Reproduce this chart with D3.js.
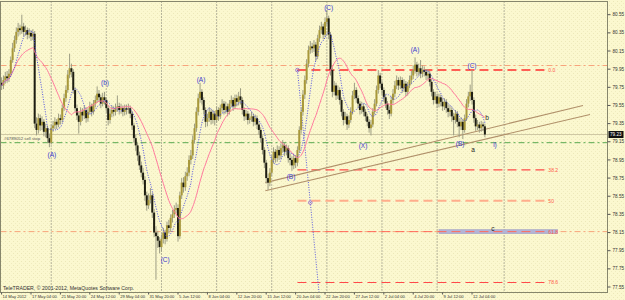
<!DOCTYPE html>
<html>
<head>
<meta charset="utf-8">
<script src="https://cdn.jsdelivr.net/npm/d3@7"></script>
<style>
  body { margin: 0; background: #fbf8cf; }
  text { font-family: "Liberation Sans", Arial, sans-serif; }
</style>
</head>
<body>
<div id="chart"></div>
<script>
// 4h bars, 14 May 12:00 -> 13 Jul 08:00
const opens = [79.80,79.77,79.83,79.87,79.85,79.90,80.05,80.18,80.27,80.36,
80.40,80.38,80.42,80.36,80.38,80.33,80.35,80.31,80.34,79.35,
79.28,79.41,79.33,79.37,79.26,79.30,79.19,79.14,79.30,79.33,
79.37,79.34,79.41,79.39,79.52,79.63,79.72,79.89,79.96,79.92,
79.72,79.52,79.44,79.37,79.48,79.44,79.50,79.41,79.48,79.54,
79.48,79.57,79.61,79.68,79.64,79.57,79.64,79.61,79.52,79.39,
79.46,79.50,79.48,79.52,79.54,79.50,79.52,79.48,79.52,79.50,
79.52,79.46,79.33,79.19,79.11,79.00,78.89,78.81,78.73,78.56,
78.45,78.51,78.56,78.37,78.15,78.11,78.06,77.99,78.08,78.15,
78.08,78.23,78.20,78.31,78.35,78.40,78.42,78.11,78.56,78.70,
78.65,78.77,78.81,78.95,79.00,79.17,79.30,79.48,79.63,79.70,
79.61,79.50,79.37,79.41,79.48,79.39,79.46,79.39,79.50,79.43,
79.52,79.57,79.50,79.54,79.48,79.57,79.61,79.54,79.63,79.59,
79.65,79.61,79.50,79.43,79.46,79.39,79.41,79.43,79.37,79.41,
79.34,79.28,79.19,79.06,78.92,78.75,78.70,78.81,78.95,79.04,
78.97,79.06,79.00,79.08,79.11,79.04,79.08,78.97,78.95,78.89,
78.97,78.92,79.06,79.28,79.48,79.67,79.83,80.01,80.16,80.20,
80.18,80.22,80.09,80.29,80.38,80.42,80.33,80.47,80.51,80.33,
79.94,79.70,79.77,79.66,79.72,79.61,79.48,79.39,79.43,79.34,
79.39,79.48,79.66,79.72,79.63,79.57,79.50,79.54,79.48,79.43,
79.37,79.30,79.34,79.48,79.57,79.72,79.88,79.79,79.72,79.64,
79.57,79.50,79.46,79.61,79.68,79.77,79.83,79.77,79.83,79.74,
79.79,79.70,79.77,79.83,79.88,79.94,80.00,79.92,79.96,79.90,
79.94,79.92,79.88,79.90,79.81,79.70,79.61,79.65,79.57,79.64,
79.59,79.54,79.59,79.52,79.48,79.50,79.43,79.39,79.46,79.37,
79.32,79.37,79.28,79.41,79.57,79.65,79.70,79.61,79.41,79.32,
79.34,79.30,79.34,79.32];

const highs = [79.86,79.88,79.92,79.93,79.95,80.09,80.24,80.32,80.41,80.46,
80.44,80.55,80.46,80.43,80.41,80.40,80.38,80.39,80.37,79.42,
79.46,79.45,79.43,79.40,79.35,79.33,79.24,79.34,79.38,79.42,
79.40,79.46,79.45,79.56,79.68,79.77,79.94,80.12,80.01,79.95,
79.75,79.56,79.48,79.53,79.52,79.55,79.53,79.52,79.59,79.57,
79.61,79.66,79.76,79.72,79.67,79.69,79.70,79.64,79.55,79.51,
79.55,79.54,79.57,79.66,79.58,79.57,79.55,79.56,79.56,79.57,
79.55,79.49,79.36,79.23,79.14,79.04,78.93,78.86,78.77,78.60,
78.58,78.64,78.59,78.41,78.22,78.17,78.10,78.13,78.20,78.18,
78.27,78.29,78.35,78.40,78.45,78.48,78.46,78.60,78.75,78.76,
78.82,78.87,79.00,79.06,79.22,79.35,79.53,79.68,79.80,79.73,
79.64,79.53,79.46,79.53,79.51,79.50,79.49,79.54,79.53,79.56,
79.62,79.60,79.59,79.57,79.61,79.66,79.64,79.67,79.67,79.70,
79.74,79.64,79.53,79.50,79.49,79.46,79.48,79.46,79.45,79.44,
79.38,79.31,79.22,79.09,78.95,78.80,78.86,79.00,79.09,79.07,
79.11,79.10,79.13,79.17,79.14,79.12,79.11,79.02,78.99,79.01,
79.00,79.10,79.32,79.53,79.72,79.88,80.06,80.21,80.26,80.24,
80.27,80.25,80.33,80.43,80.47,80.45,80.52,80.60,80.54,80.36,
79.97,79.82,79.80,79.77,79.75,79.64,79.51,79.48,79.46,79.44,
79.53,79.71,79.80,79.75,79.66,79.60,79.59,79.57,79.51,79.46,
79.40,79.39,79.52,79.62,79.77,79.94,79.91,79.82,79.75,79.67,
79.60,79.54,79.65,79.73,79.82,79.88,79.86,79.87,79.86,79.84,
79.82,79.81,79.88,79.93,79.99,80.08,80.03,80.01,80.05,79.99,
79.98,79.95,79.95,79.93,79.84,79.73,79.70,79.68,79.68,79.67,
79.63,79.63,79.62,79.56,79.55,79.53,79.47,79.50,79.49,79.41,
79.42,79.40,79.45,79.62,79.70,79.78,79.94,79.64,79.45,79.39,
79.37,79.38,79.37,79.35];

const lows = [79.72,79.73,79.79,79.80,79.81,79.87,80.02,80.14,80.23,80.31,
80.33,80.34,80.31,80.32,80.28,80.29,80.26,80.27,79.30,79.22,
79.24,79.27,79.28,79.21,79.20,79.14,79.09,79.12,79.26,79.29,
79.29,79.31,79.34,79.36,79.49,79.59,79.69,79.85,79.86,79.68,
79.48,79.39,79.24,79.33,79.38,79.40,79.36,79.37,79.45,79.43,
79.45,79.53,79.58,79.59,79.52,79.54,79.56,79.47,79.33,79.35,
79.42,79.43,79.44,79.48,79.45,79.46,79.43,79.44,79.45,79.46,
79.41,79.28,79.14,79.05,78.94,78.84,78.76,78.68,78.50,78.39,
78.41,78.47,78.31,78.10,77.63,77.98,77.92,77.94,78.03,78.02,
78.05,78.14,78.16,78.26,78.31,78.36,78.05,78.08,78.52,78.59,
78.61,78.72,78.77,78.90,78.96,79.13,79.26,79.44,79.58,79.56,
79.45,79.31,79.32,79.37,79.34,79.35,79.33,79.36,79.38,79.40,
79.48,79.45,79.46,79.43,79.45,79.53,79.49,79.51,79.54,79.55,
79.56,79.45,79.38,79.39,79.34,79.35,79.37,79.32,79.33,79.29,
79.23,79.14,79.01,78.86,78.69,78.62,78.66,78.77,78.91,78.92,
78.93,78.95,78.96,79.03,78.99,79.00,78.92,78.89,78.83,78.85,
78.86,78.88,79.03,79.24,79.44,79.62,79.79,79.97,80.12,80.13,
80.14,80.04,80.06,80.25,80.34,80.28,80.30,80.43,80.28,79.88,
79.64,79.66,79.61,79.62,79.56,79.43,79.33,79.35,79.28,79.30,
79.36,79.45,79.62,79.58,79.52,79.45,79.46,79.43,79.38,79.32,
79.25,79.22,79.31,79.45,79.54,79.68,79.74,79.67,79.59,79.52,
79.45,79.40,79.43,79.57,79.64,79.73,79.72,79.73,79.69,79.70,
79.65,79.66,79.74,79.79,79.84,79.90,79.87,79.88,79.85,79.86,
79.87,79.83,79.84,79.76,79.65,79.56,79.57,79.52,79.53,79.54,
79.49,79.50,79.47,79.42,79.43,79.37,79.22,79.35,79.31,79.20,
79.28,79.18,79.25,79.38,79.53,79.60,79.56,79.36,79.27,79.28,
79.25,79.26,79.27,79.20];

const closes = [79.77,79.83,79.87,79.85,79.90,80.05,80.18,80.27,80.36,80.40,
80.38,80.42,80.36,80.38,80.33,80.35,80.31,80.34,79.35,79.28,
79.41,79.33,79.37,79.26,79.30,79.19,79.14,79.30,79.33,79.37,
79.34,79.41,79.39,79.52,79.63,79.72,79.89,79.96,79.92,79.72,
79.52,79.44,79.37,79.48,79.44,79.50,79.41,79.48,79.54,79.48,
79.57,79.61,79.68,79.64,79.57,79.64,79.61,79.52,79.39,79.46,
79.50,79.48,79.52,79.54,79.50,79.52,79.48,79.52,79.50,79.52,
79.46,79.33,79.19,79.11,79.00,78.89,78.81,78.73,78.56,78.45,
78.51,78.56,78.37,78.15,78.11,78.06,77.99,78.08,78.15,78.08,
78.23,78.20,78.31,78.35,78.40,78.42,78.11,78.56,78.70,78.65,
78.77,78.81,78.95,79.00,79.17,79.30,79.48,79.63,79.70,79.61,
79.50,79.37,79.41,79.48,79.39,79.46,79.39,79.50,79.43,79.52,
79.57,79.50,79.54,79.48,79.57,79.61,79.54,79.63,79.59,79.65,
79.61,79.50,79.43,79.46,79.39,79.41,79.43,79.37,79.41,79.34,
79.28,79.19,79.06,78.92,78.75,78.70,78.81,78.95,79.04,78.97,
79.06,79.00,79.08,79.11,79.04,79.08,78.97,78.95,78.89,78.97,
78.92,79.06,79.28,79.48,79.67,79.83,80.01,80.16,80.20,80.18,
80.22,80.09,80.29,80.38,80.42,80.33,80.47,80.51,80.33,79.94,
79.70,79.77,79.66,79.72,79.61,79.48,79.39,79.43,79.34,79.39,
79.48,79.66,79.72,79.63,79.57,79.50,79.54,79.48,79.43,79.37,
79.30,79.34,79.48,79.57,79.72,79.88,79.79,79.72,79.64,79.57,
79.50,79.46,79.61,79.68,79.77,79.83,79.77,79.83,79.74,79.79,
79.70,79.77,79.83,79.88,79.94,80.00,79.92,79.96,79.90,79.94,
79.92,79.88,79.90,79.81,79.70,79.61,79.65,79.57,79.64,79.59,
79.54,79.59,79.52,79.48,79.50,79.43,79.39,79.46,79.37,79.32,
79.37,79.28,79.41,79.57,79.65,79.70,79.61,79.41,79.32,79.34,
79.30,79.34,79.32,79.23];

// axis
const priceTicks = [80.55,80.35,80.15,79.95,79.75,79.55,79.35,79.15,78.95,78.75,78.55,78.35,78.15,77.95,77.75,77.55];
const dateTicks = [0,16,32,48,64,80,96,112,128,144,160,176,192,208,224,240,256];
const dateLabels = ["14 May 2012","17 May 04:00","21 May 20:00","24 May 12:00","29 May 04:00","31 May 20:00",
  "5 Jun 12:00","8 Jun 04:00","12 Jun 20:00","15 Jun 12:00","20 Jun 04:00","22 Jun 20:00",
  "27 Jun 12:00","2 Jul 04:00","4 Jul 20:00","9 Jul 12:00","12 Jul 04:00"];
const weekLines = [27,57,87,117,147,177,207,237,273.5];

// drawn objects
const fibStart = 161, fibEnd = 297;
const fibNames = ["0.0","38.2","50","61.8","78.6"];
const fibPrices = [79.94,78.84,78.50,78.16,77.60];
const fibAnchors = [{i:161, p:79.94}, {i:168, p:78.48}];
const channelUpper = [{i:143.5, p:78.70}, {i:316.4, p:79.55}];
const channelLower = [{i:143.5, p:78.61}, {i:320.2, p:79.45}];
const orangeLevels = [79.99, 78.16];
const sellStop = 79.14;
const bid = 79.23;
const targetBox = {i0: 238, i1: 302.5, p: 78.16};

const waveText = ["(A)","(b)","(C)","(A)","(B)","(C)","(X)","(A)","(B)","(C)","i)"];
const waveBar  = [27.4,56.3,89,108.5,157.5,178,196.7,225,249.5,256,268.5];
const wavePrice= [79.01,79.80,77.85,79.83,78.76,80.63,79.11,80.16,79.13,79.99,79.12];
const subText  = ["a","b","c"];
const subBar   = [256.5,264.2,267.4];
const subPrice = [79.06,79.42,78.19];

var W = 625, H = 300;
var P = {left: 0.5, top: 1.5, right: 607.5, bottom: 292.5};

var x = d3.scaleLinear().domain([0, 330]).range([1.6, 608]);
var y = d3.scaleLinear().domain([77.55, 80.55]).range([287, 14.7]);

var svg = d3.select("#chart").append("svg")
  .attr("width", W).attr("height", H);

var defs = svg.append("defs");
var pat = defs.append("pattern").attr("id", "dots")
  .attr("width", 4).attr("height", 4).attr("patternUnits", "userSpaceOnUse");
pat.append("rect").attr("width", 4).attr("height", 4).attr("fill", "#fbf8cf");
pat.append("rect").attr("x", 1).attr("y", 1).attr("width", 1).attr("height", 1).attr("fill", "#ece8b8");
pat.append("rect").attr("x", 3).attr("y", 3).attr("width", 1).attr("height", 1).attr("fill", "#efebbf");
defs.append("clipPath").attr("id", "clip").append("rect")
  .attr("x", P.left).attr("y", P.top).attr("width", P.right - P.left).attr("height", P.bottom - P.top);

svg.append("rect").attr("width", W).attr("height", H).attr("fill", "url(#dots)");

var plot = svg.append("g").attr("clip-path", "url(#clip)");

// weekly grid
plot.selectAll("line.grid").data(weekLines).enter().append("line")
  .attr("x1", d => x(d)).attr("x2", d => x(d))
  .attr("y1", P.top).attr("y2", P.bottom)
  .attr("stroke", "#555").attr("stroke-width", 0.8).attr("stroke-dasharray", "1,2");

// full width levels
plot.selectAll("line.orange").data(orangeLevels).enter().append("line")
  .attr("x1", P.left).attr("x2", P.right)
  .attr("y1", d => y(d)).attr("y2", d => y(d))
  .attr("stroke", "#f7a37a").attr("stroke-dasharray", "6,3,2,3");

plot.append("line")
  .attr("x1", P.left).attr("x2", P.right).attr("y1", y(bid)).attr("y2", y(bid))
  .attr("stroke", "#cfc8a4");

plot.append("line")
  .attr("x1", P.left).attr("x2", P.right).attr("y1", y(sellStop)).attr("y2", y(sellStop))
  .attr("stroke", "#5aaa50").attr("stroke-dasharray", "6,3,2,3");
plot.append("text").attr("x", 4).attr("y", y(sellStop) - 3)
  .attr("font-size", 4.3).attr("fill", "#555").text("#6789052 sell stop");

// target box for c
plot.append("rect")
  .attr("x", x(targetBox.i0)).attr("width", x(targetBox.i1) - x(targetBox.i0))
  .attr("y", y(targetBox.p) - 2).attr("height", 4)
  .attr("fill", "#b4b4d6").attr("stroke", "#9a9ac4").attr("stroke-width", 0.5);

// fibo levels
var fibColors = ["#ff2e2e","#ff4a4a","#ffad8c","#ff6a5a","#ff4a4a"];
var fibWidths = [1.6,1.1,2,1,1.1];
plot.selectAll("line.fib").data(fibPrices).enter().append("line")
  .attr("x1", x(fibStart)).attr("x2", x(fibEnd))
  .attr("y1", d => y(d)).attr("y2", d => y(d))
  .attr("stroke", (d, i) => fibColors[i]).attr("stroke-width", (d, i) => fibWidths[i])
  .attr("stroke-dasharray", "9,5");
plot.selectAll("text.fib").data(fibPrices).enter().append("text")
  .attr("x", x(fibEnd) + 1).attr("y", d => y(d) + 2)
  .attr("font-size", 5).attr("fill", "#ff5a4a")
  .text((d, i) => fibNames[i]);

// fibo anchor line, extended to the bottom edge
var a0 = fibAnchors[0], a1 = fibAnchors[1];
var pBottom = y.invert(P.bottom);
var iBottom = a0.i + (pBottom - a0.p) * (a1.i - a0.i) / (a1.p - a0.p);
plot.append("line")
  .attr("x1", x(a0.i)).attr("y1", y(a0.p)).attr("x2", x(iBottom)).attr("y2", y(pBottom))
  .attr("stroke", "#5a5ae0").attr("stroke-dasharray", "1,1.5");
plot.selectAll("circle.anchor").data(fibAnchors).enter().append("circle")
  .attr("cx", d => x(d.i)).attr("cy", d => y(d.p)).attr("r", 1.8)
  .attr("fill", "none").attr("stroke", "#8a5ac8").attr("stroke-width", 0.8);

// channel
[channelUpper, channelLower].forEach(c => {
  plot.append("line")
    .attr("x1", x(c[0].i)).attr("y1", y(c[0].p)).attr("x2", x(c[1].i)).attr("y2", y(c[1].p))
    .attr("stroke", "#b0906a").attr("stroke-width", 1.1);
});

// candles
var bars = d3.range(closes.length);
var cg = plot.append("g").selectAll("g").data(bars).enter().append("g");
cg.append("line")
  .attr("x1", i => x(i)).attr("x2", i => x(i))
  .attr("y1", i => y(highs[i])).attr("y2", i => y(lows[i]))
  .attr("stroke", "#9d9d84").attr("stroke-width", 1);
cg.append("rect")
  .attr("x", i => x(i) - 1).attr("width", 2)
  .attr("y", i => y(Math.max(opens[i], closes[i])))
  .attr("height", i => Math.max(1, Math.abs(y(opens[i]) - y(closes[i]))))
  .attr("fill", i => closes[i] >= opens[i] ? "#a8983a" : "#1e1e12");

// moving averages
const sma = n => closes.map((c, i) => d3.mean(closes.slice(Math.max(0, i - n + 1), i + 1)));
var maLine = d3.line().x((d, i) => x(i)).y(d => y(d)).curve(d3.curveMonotoneX);
plot.append("path").datum(sma(21)).attr("d", maLine)
  .attr("fill", "none").attr("stroke", "#ff7a9e").attr("stroke-width", 1);
plot.append("path").datum(sma(8)).attr("d", maLine)
  .attr("fill", "none").attr("stroke", "#4f4fe0").attr("stroke-width", 1).attr("stroke-dasharray", "1,1.5");

// wave labels
plot.selectAll("text.wave").data(waveText).enter().append("text")
  .attr("x", (d, i) => x(waveBar[i])).attr("y", (d, i) => y(wavePrice[i]))
  .attr("text-anchor", "middle").attr("dy", "0.35em")
  .attr("font-size", 6.5).attr("fill", "#3a3ad0").text(d => d);
plot.selectAll("text.sub").data(subText).enter().append("text")
  .attr("x", (d, i) => x(subBar[i])).attr("y", (d, i) => y(subPrice[i]))
  .attr("text-anchor", "middle").attr("dy", "0.35em")
  .attr("font-size", 6.5).attr("fill", "#222").text(d => d);

plot.append("text").attr("x", 3).attr("y", 289.5)
  .attr("font-size", 5.2).attr("fill", "#333")
  .text("TeleTRADER, \u00a9 2001-2012, MetaQuotes Software Corp.");

// frame
svg.append("rect")
  .attr("x", P.left).attr("y", P.top).attr("width", P.right - P.left).attr("height", P.bottom - P.top)
  .attr("fill", "none").attr("stroke", "#86866c");

// price axis
var ya = svg.append("g");
ya.selectAll("line").data(priceTicks).enter().append("line")
  .attr("x1", P.right).attr("x2", P.right + 3)
  .attr("y1", d => y(d)).attr("y2", d => y(d)).attr("stroke", "#555");
ya.selectAll("text").data(priceTicks).enter().append("text")
  .attr("x", P.right + 5).attr("y", d => y(d)).attr("dy", "0.35em")
  .attr("font-size", 4.6).attr("fill", "#333").text(d => d.toFixed(2));
ya.append("rect").attr("x", P.right + 1).attr("y", y(bid) - 3.5).attr("width", 15).attr("height", 7).attr("fill", "#111");
ya.append("text").attr("x", P.right + 2.5).attr("y", y(bid)).attr("dy", "0.35em")
  .attr("font-size", 4.6).attr("fill", "#fff").text(bid.toFixed(2));

// time axis
var xa = svg.append("g");
xa.selectAll("line").data(dateTicks).enter().append("line")
  .attr("x1", d => x(d)).attr("x2", d => x(d))
  .attr("y1", P.bottom).attr("y2", P.bottom + 2).attr("stroke", "#555");
xa.selectAll("text").data(dateTicks).enter().append("text")
  .attr("x", d => x(d) + 1).attr("y", 298)
  .attr("font-size", 4.1).attr("fill", "#333")
  .text((d, i) => dateLabels[i]);
</script>
</body>
</html>
